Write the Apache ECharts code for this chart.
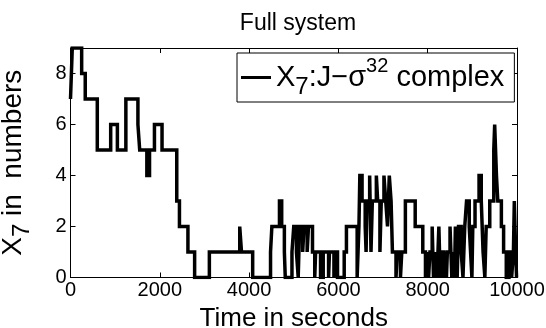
<!DOCTYPE html>
<html><head><meta charset="utf-8">
<script src="https://cdn.jsdelivr.net/npm/echarts@6/dist/echarts.min.js"></script>
<style>html,body{margin:0;padding:0;background:#fff}#c{width:546px;height:328px}</style>
</head><body><div id="c"></div>
<script>
const times = [0,20,40,250,330,600,900,1050,1240,1510,1550,1710,1770,1880,2050,2380,2440,2630,2780,3110,3790,3830,4080,4480,4510,4680,4730,4790,4810,4960,5000,5060,5100,5130,5200,5230,5300,5330,5420,5470,5490,5600,5660,5780,5800,5900,5920,5980,6130,6180,6420,6440,6460,6480,6530,6600,6620,6640,6700,6730,6760,6850,6880,6930,6960,7020,7060,7100,7140,7180,7210,7290,7320,7390,7420,7500,7720,7890,7950,7980,8020,8050,8100,8130,8160,8200,8230,8250,8280,8310,8360,8380,8420,8440,8500,8540,8570,8600,8620,8660,8690,8750,8790,8830,8870,8930,8960,8990,9010,9060,9150,9200,9240,9280,9310,9390,9480,9500,9540,9570,9650,9700,9760,9820,9880,9920,9940,9970,9990,10000];
const counts = [7,8,9,8,7,5,6,5,7,6,5,4,5,6,5,3,2,1,0,1,2,1,0,1,2,3,2,1,0,1,2,1,0,2,1,2,1,2,1,0,1,0,1,0,1,0,1,0,1,2,0,1,2,4,3,2,1,3,4,1,3,4,3,1,3,4,3,2,4,3,1,0,1,0,1,3,2,1,0,1,0,1,2,0,1,0,1,2,0,1,0,1,0,1,2,0,1,0,2,0,2,1,0,2,3,2,1,0,2,3,4,3,1,0,2,3,5,6,4,3,2,1,0,1,0,1,3,1,0,0];
const xTicks = [0,2000,4000,6000,8000,10000];
const yTicks = [0,2,4,6,8];
const seriesName = 'X7';

const data = times.map((t,i)=>[t, counts[i]]);
const FONT = '"Liberation Sans", Arial, Helvetica, sans-serif';
const chart = echarts.init(document.getElementById('c'), null, {renderer:'canvas'});
const axisCommon = {
  axisLine:{show:true, onZero:false, lineStyle:{color:'#000', width:1}},
  axisTick:{show:true, inside:true, length:5, lineStyle:{color:'#000'}},
  splitLine:{show:false}
};
chart.setOption({
  animation:false,
  backgroundColor:'#fff',
  title:{text:'Full system', left:293, textAlign:'center', top:7,
    textStyle:{fontFamily:FONT, fontSize:23, fontWeight:'normal', color:'#000'}},
  grid:{left:70.5, right:29, top:48, bottom:50.5, containLabel:false, outerBoundsMode:'none'},
  legend:{
    data:[seriesName], left:237, top:53, orient:'horizontal',
    backgroundColor:'#fff', borderColor:'#000', borderWidth:1,
    padding:[3,10,3,4], itemWidth:30, itemHeight:3, itemGap:0, icon:'rect',
    formatter:()=>'{m|X}{sub|7}{m|:J\u2212\u03c3}{sup|32}{m| complex}',
    textStyle:{fontFamily:FONT, color:'#000', fontSize:29,
      rich:{
        m:{fontFamily:FONT, fontSize:29, color:'#000', verticalAlign:'middle'},
        sub:{fontFamily:FONT, fontSize:24, color:'#000', verticalAlign:'bottom', padding:[19,0,0,0]},
        sup:{fontFamily:FONT, fontSize:20, color:'#000', verticalAlign:'top', padding:[0,0,17,0]}
      }}
  },
  xAxis:[
    Object.assign({type:'value', min:0, max:10000, interval:2000, position:'bottom',
      name:'Time in seconds', nameLocation:'middle', nameGap:20,
      nameTextStyle:{fontFamily:FONT, fontSize:26, color:'#000', verticalAlign:'top'},
      axisLabel:{fontFamily:FONT, fontSize:20, color:'#000', margin:3,
        formatter:v=>String(v), customValues: xTicks}}, axisCommon),
    Object.assign({type:'value', min:0, max:10000, interval:2000, position:'top',
      axisLabel:{show:false}}, axisCommon)
  ],
  yAxis:[
    Object.assign({type:'value', min:0, max:9, interval:2, position:'left',
      name:'{m|X}{sub|7}{m| in  numbers}', nameLocation:'middle', nameGap:36, nameRotate:90,
      nameTextStyle:{fontFamily:FONT, fontSize:28, color:'#000',
        rich:{
          m:{fontFamily:FONT, fontSize:28, color:'#000', verticalAlign:'middle'},
          sub:{fontFamily:FONT, fontSize:24, color:'#000', verticalAlign:'bottom', padding:[18,0,0,0]}
        }},
      axisLabel:{fontFamily:FONT, fontSize:20, color:'#000', margin:4,
        formatter:v=>String(v), customValues: yTicks}}, axisCommon),
    Object.assign({type:'value', min:0, max:9, interval:2, position:'right',
      axisLabel:{show:false}}, axisCommon)
  ],
  series:[{
    name:seriesName, type:'line', step:'end', data:data,
    xAxisIndex:0, yAxisIndex:0,
    symbol:'none', showSymbol:false,
    lineStyle:{color:'#000', width:3.5, join:'miter'},
    itemStyle:{color:'#000'}
  }]
});
</script></body></html>
